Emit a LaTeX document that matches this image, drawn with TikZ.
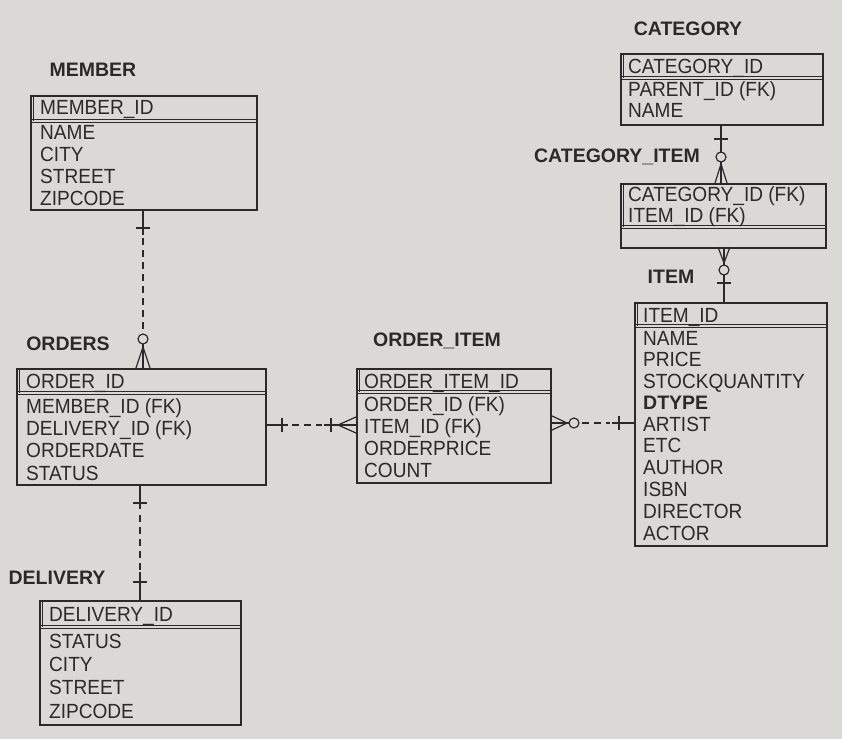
\documentclass[tikz,border=0pt]{standalone}
\usepackage{fontspec}
\setmainfont{Liberation Sans}
\newfontfamily\fldfont[FakeStretch=0.93]{Liberation Sans}
\definecolor{paper}{RGB}{219,217,213}
\definecolor{ink}{RGB}{42,42,42}
\tikzset{
  tbl/.style={draw=ink, line width=1.5pt, inner sep=0pt, anchor=north west},
  keyline/.style={draw=ink, line width=1.3pt},
  keyframe/.style={draw=ink, line width=0.5pt},
  fld/.style={anchor=base west, inner sep=0pt, text=ink, font=\fldfont\fontsize{20.5}{22}\selectfont},
  ttl/.style={inner sep=0pt, text=ink, font=\bfseries\fontsize{19.5}{22}\selectfont},
  rel/.style={draw=ink, line width=1.2pt},
  reldash/.style={draw=ink, line width=1.2pt, dash pattern=on 7pt off 5pt},
}
% name, x1, y1, width, height, key-row bottom y
\newcommand\ertable[6]{%
  \node[tbl, minimum width=#4pt, minimum height=#5pt] (#1) at (#2,#3) {};
  \draw[keyframe] ({#2+3},{#3}) -- ({#2+3},{#6});
  \draw[keyline] (#2,{#6-1.2}) -- ({#2+#4},{#6-1.2});
  \draw[keyframe] (#2,{#6+1.4}) -- ({#2+#4},{#6+1.4});
}
\begin{document}
\begin{tikzpicture}[x=1pt,y=-1pt]
\useasboundingbox[fill=paper] (0,0) rectangle (842,739);

% ---------- MEMBER ----------
\node[ttl] (tmember) at (93,70) {MEMBER};
\ertable{member}{30}{95}{226}{114}{121}
\node[fld] (m0) at (40,114) {MEMBER\_ID};
\node[fld] (m1) at (40,139) {NAME};
\node[fld] (m2) at (40,161) {CITY};
\node[fld] (m3) at (40,183) {STREET};
\node[fld] (m4) at (40,205) {ZIPCODE};

% ---------- ORDERS ----------
\node[ttl] (torders) at (68,344) {ORDERS};
\ertable{orders}{16}{368}{249}{116}{393}
\node[fld] (o0) at (26,388) {ORDER\_ID};
\node[fld] (o1) at (26,413) {MEMBER\_ID (FK)};
\node[fld] (o2) at (26,435) {DELIVERY\_ID (FK)};
\node[fld] (o3) at (26,457) {ORDERDATE};
\node[fld] (o4) at (26,480) {STATUS};

% ---------- DELIVERY ----------
\node[ttl] (tdelivery) at (57,578) {DELIVERY};
\ertable{delivery}{39}{600}{201}{124}{627}
\node[fld] (d0) at (49,621) {DELIVERY\_ID};
\node[fld] (d1) at (49,648) {STATUS};
\node[fld] (d2) at (49,671) {CITY};
\node[fld] (d3) at (49,694) {STREET};
\node[fld] (d4) at (49,718) {ZIPCODE};

% ---------- ORDER_ITEM ----------
\node[ttl] (torderitem) at (437,341) {ORDER\_ITEM};
\ertable{orderitem}{356}{368}{194}{114}{392}
\node[fld] (oi0) at (364,388) {ORDER\_ITEM\_ID};
\node[fld] (oi1) at (364,411) {ORDER\_ID (FK)};
\node[fld] (oi2) at (364,433) {ITEM\_ID (FK)};
\node[fld] (oi3) at (364,455) {ORDERPRICE};
\node[fld] (oi4) at (364,477) {COUNT};

% ---------- ITEM ----------
\node[ttl] (titem) at (671,277) {ITEM};
\ertable{item}{634}{302}{192}{243}{326}
\node[fld] (i0) at (643,322) {ITEM\_ID};
\node[fld] (i1) at (643,345) {NAME};
\node[fld] (i2) at (643,366) {PRICE};
\node[fld] (i3) at (643,388) {STOCKQUANTITY};
\node[fld,font=\bfseries\fontsize{19.5}{22}\selectfont] (i4) at (643,409) {DTYPE};
\node[fld] (i5) at (643,431) {ARTIST};
\node[fld] (i6) at (643,452) {ETC};
\node[fld] (i7) at (643,474) {AUTHOR};
\node[fld] (i8) at (643,496) {ISBN};
\node[fld] (i9) at (643,518) {DIRECTOR};
\node[fld] (i10) at (643,540) {ACTOR};

% ---------- CATEGORY ----------
\node[ttl] (tcategory) at (688,29) {CATEGORY};
\ertable{category}{620}{53}{202}{71}{78}
\node[fld] (c0) at (628,73) {CATEGORY\_ID};
\node[fld] (c1) at (628,96) {PARENT\_ID (FK)};
\node[fld] (c2) at (628,117) {NAME};

% ---------- CATEGORY_ITEM ----------
\node[ttl] (tcatitem) at (617,157) {CATEGORY\_ITEM};
\ertable{catitem}{620}{183}{205}{64}{227}
\node[fld] (ci0) at (628,201) {CATEGORY\_ID (FK)};
\node[fld] (ci1) at (628,222) {ITEM\_ID (FK)};

% ---------- connectors ----------
% MEMBER 1 -- 0..* ORDERS
\coordinate (c1a) at (143,0 |- member.south);
\coordinate (c1b) at (143,0 |- orders.north);
\draw[rel] (c1a) -- (143,235);
\draw[rel] (136,228) -- (150,228);
\draw[reldash] (143,238) -- (143,333);
\draw[rel] (143,339) circle (5pt);
\draw[rel] (143,344) -- (c1b);
\draw[rel] (136,368) -- (143,347) -- (150,368);

% ORDERS 1 -- 1 DELIVERY
\coordinate (c2a) at (140,0 |- orders.south);
\coordinate (c2b) at (140,0 |- delivery.north);
\draw[rel] (c2a) -- (140,509);
\draw[rel] (133,503) -- (147,503);
\draw[reldash] (140,515) -- (140,572);
\draw[rel] (140,572) -- (c2b);
\draw[rel] (133,582) -- (147,582);

% ORDERS 1 -- * ORDER_ITEM
\coordinate (c3a) at (0,425 -| orders.east);
\coordinate (c3b) at (0,425 -| orderitem.west);
\draw[rel] (c3a) -- (288,425);
\draw[rel] (282,418) -- (282,432);
\draw[reldash] (292,425) -- (322,425);
\draw[rel] (324,425) -- (c3b);
\draw[rel] (331,418) -- (331,432);
\draw[rel] (356,417) -- (338,425) -- (356,433);

% ORDER_ITEM 0..* -- 1 ITEM
\coordinate (c4a) at (0,423 -| orderitem.east);
\coordinate (c4b) at (0,423 -| item.west);
\draw[rel] (c4a) -- (569,423);
\draw[rel] (550,415) -- (567,423) -- (550,431);
\draw[rel] (574,423) circle (5pt);
\draw[reldash] (582,423) -- (610,423);
\draw[rel] (612,423) -- (c4b);
\draw[rel] (619,416) -- (619,430);

% CATEGORY 1 -- 0..* CATEGORY_ITEM
\coordinate (c5a) at (721,0 |- category.south);
\coordinate (c5b) at (721,0 |- catitem.north);
\draw[rel] (c5a) -- (721,152);
\draw[rel] (714,139) -- (728,139);
\draw[rel] (721,157) circle (5pt);
\draw[rel] (721,162) -- (c5b);
\draw[rel] (715,183) -- (721,164) -- (727,183);

% CATEGORY_ITEM 0..* -- 1 ITEM
\coordinate (c6a) at (724,0 |- catitem.south);
\coordinate (c6b) at (724,0 |- item.north);
\draw[rel] (c6a) -- (724,265);
\draw[rel] (718,247) -- (724,263) -- (730,247);
\draw[rel] (724,270) circle (5pt);
\draw[rel] (724,275) -- (c6b);
\draw[rel] (717,283) -- (731,283);
\end{tikzpicture}
\end{document}
